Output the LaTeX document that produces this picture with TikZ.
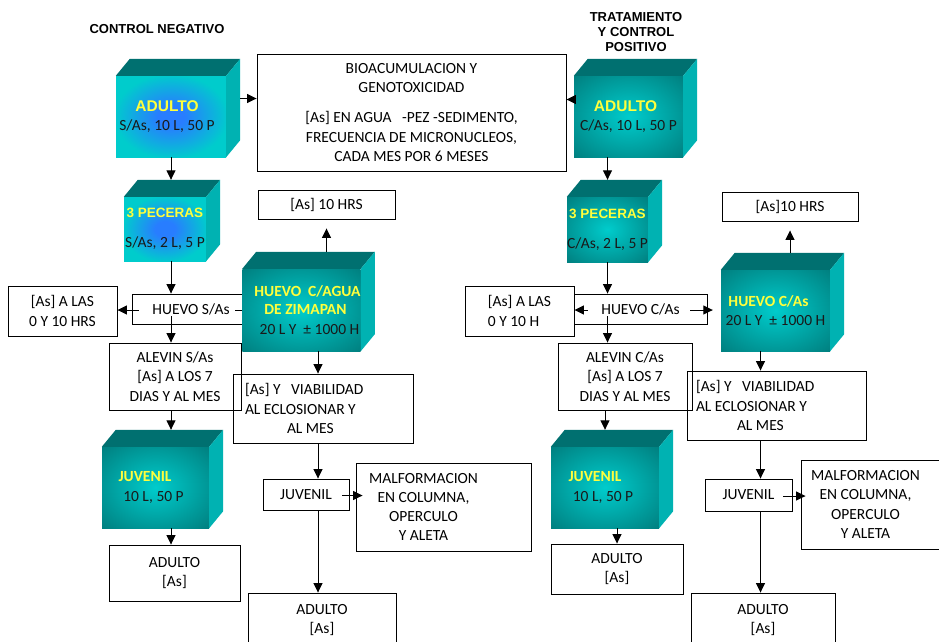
\documentclass[tikz,border=0pt]{standalone}
\usepackage{fontspec}
\setmainfont{Carlito}
\newfontfamily\arialfont{Liberation Sans}
\usepackage{tikz}
\usetikzlibrary{arrows.meta}
\definecolor{aguacian}{RGB}{0,204,204}
\definecolor{aguaosc}{RGB}{0,96,96}
\definecolor{tapa}{RGB}{0,112,112}
\definecolor{lado}{RGB}{0,178,178}
\definecolor{azul}{RGB}{40,125,255}
\definecolor{amarillo}{RGB}{255,255,60}
\definecolor{tinta}{RGB}{25,25,25}
\pgfdeclareradialshading{brillo}{\pgfpoint{0bp}{0bp}}{color(0bp)=(aguacian); color(50bp)=(aguaosc)}
\pgfdeclareradialshading{brilloazul}{\pgfpoint{0bp}{0bp}}{color(0bp)=(azul); color(6bp)=(azul); color(26bp)=(aguacian); color(50bp)=(aguacian)}
\newcommand{\letra}{\fontsize{15.5}{19.3}\selectfont}
\newcommand{\arsen}{[As]}
\newcommand{\linea}[1]{\makebox[111pt]{#1}}
\newcommand{\amar}[1]{{\color{amarillo}\bfseries #1}}
\newcommand{\fondox}{14}
\newcommand{\fondoy}{-17}
% caja 3D: nombre, posicion, ancho, alto, sombreado, texto
\newcommand{\cubo}[6]{%
  \node[cara, shading=#5, minimum width=#3pt, minimum height=#4pt] (#1) at #2 {#6};
  \fill[tapa] (#1.north west) -- ++(\fondox,\fondoy) -- ([shift={(\fondox,\fondoy)}]#1.north east) -- (#1.north east) -- cycle;
  \fill[lado] (#1.north east) -- ([shift={(\fondox,\fondoy)}]#1.north east) -- ([shift={(\fondox,\fondoy)}]#1.south east) -- (#1.south east) -- cycle;
  \coordinate (#1-t) at ([shift={(0,\fondoy)}]#1.north);
}
\tikzset{
  caja/.style={draw=black, line width=0.9pt, align=center, inner sep=0pt},
  cara/.style={shade, inner sep=0pt, align=center, text=tinta},
  flecha/.style={line width=0.9pt, -{Triangle[length=9.5pt,width=9pt]}},
  titulo/.style={font=\arialfont\bfseries\fontsize{13}{15}\selectfont, align=center}
}

\begin{document}
\begin{tikzpicture}[x=1pt, y=-1pt, font=\letra]
\useasboundingbox (0,0) rectangle (939,641);

\node[titulo] (hneg) at (157,29) {CONTROL NEGATIVO};
\node[titulo] (hpos) at (636,32) {TRATAMIENTO\\Y CONTROL\\POSITIVO};

% cajas de texto
\node[caja, minimum width=309pt, minimum height=117pt] (bio) at (411.5,112.5)
  {BIOACUMULACION Y\\GENOTOXICIDAD\\[11pt]\arsen{} EN AGUA \ \ -PEZ -SEDIMENTO,\\FRECUENCIA DE MICRONUCLEOS,\\CADA MES POR 6 MESES};
\node[caja, minimum width=137pt, minimum height=29pt] (hrsS) at (326.5,204.5) {\arsen{} 10 HRS};
\node[caja, minimum width=136pt, minimum height=29pt] (hrsC) at (790,206.5) {\arsen10 HRS};
\node[caja, minimum width=109pt, minimum height=50pt] (lasS) at (62.5,311) {\arsen{} A LAS\\0 Y 10 HRS};
\node[caja, minimum width=109pt, minimum height=50pt, align=left] (lasC) at (519.5,311) {\arsen{} A LAS\\0 Y 10 H};
\node[caja, minimum width=118pt, minimum height=30pt] (eggS) at (191,309) {HUEVO S/As};
\node[caja, minimum width=133pt, minimum height=30pt] (eggC) at (640.5,309) {HUEVO C/As};
\node[caja, minimum width=132pt, minimum height=67pt] (alvS) at (175,376.5) {ALEVIN S/As\\\arsen{} A LOS 7\\DIAS Y AL MES};
\node[caja, minimum width=134pt, minimum height=67pt] (alvC) at (625,376.5) {ALEVIN C/As\\\arsen{} A LOS 7\\DIAS Y AL MES};
\node[caja, minimum width=180pt, minimum height=69pt, text width=156pt, align=flush left] (viaS) at (323,408.5)
  {\arsen{} Y \ \ VIABILIDAD\\AL ECLOSIONAR Y\\\hspace*{42pt}AL MES};
\node[caja, minimum width=179pt, minimum height=69pt, text width=161pt, align=flush left] (viaC) at (776.5,405.5)
  {\arsen{} Y \ \ VIABILIDAD\\AL ECLOSIONAR Y\\\hspace*{41pt}AL MES};
\node[caja, minimum width=86pt, minimum height=31pt] (jvS) at (306,494.5) {JUVENIL};
\node[caja, minimum width=87pt, minimum height=32pt] (jvC) at (748.5,495) {JUVENIL};
\node[caja, minimum width=175pt, minimum height=88pt, text width=151pt, align=flush left] (malS) at (443.5,507)
  {\linea{MALFORMACION}\\\linea{EN COLUMNA,}\\\linea{OPERCULO}\\\linea{Y ALETA}};
\node[caja, minimum width=175pt, minimum height=89pt, text width=157pt, align=flush left] (malC) at (888.5,504.5)
  {\linea{MALFORMACION}\\\linea{EN COLUMNA,}\\\linea{OPERCULO}\\\linea{Y ALETA}};
\node[caja, minimum width=131pt, minimum height=56pt] (adbS) at (174.5,573) {ADULTO\\\arsen};
\node[caja, minimum width=132pt, minimum height=50pt] (adbC) at (617,569) {ADULTO\\\arsen};
\node[caja, minimum width=148pt, minimum height=54pt] (adlS) at (322,620) {ADULTO\\\arsen};
\node[caja, minimum width=144pt, minimum height=54pt] (adlC) at (763,620) {ADULTO\\\arsen};

% cajas 3D
\cubo{adS}{(171,116.5)}{110}{81}{brilloazul}{{\arialfont\amar{ADULTO}}\hspace*{8pt}\\S/As, 10 L, 50 P\hspace*{8pt}}
\cubo{adC}{(628.5,116.5)}{109}{81}{brillo}{{\arialfont\amar{ADULTO}}\hspace*{6pt}\\C/As, 10 L, 50 P}
\cubo{pecS}{(165,229)}{82}{64}{brilloazul}{\arialfont\fontsize{13.5}{16}\selectfont\amar{3 PECERAS}\\[11pt]S/As, 2 L, 5 P}
\cubo{pecC}{(607.5,229.5)}{81}{65}{brillo}{\arialfont\fontsize{13.5}{16}\selectfont\amar{3 PECERAS}\\[11pt]C/As, 2 L, 5 P}
\cubo{huS}{(301.5,310)}{113}{82}{brillo}{\hspace*{12pt}\amar{HUEVO \ C/AGUA}\\[-1pt]\hspace*{8pt}\amar{DE ZIMAPAN}\\\hspace*{16pt}20 L Y \ ± 1000 H}
\cubo{huC}{(775.5,310.5)}{109}{81}{brillo}{\amar{HUEVO C/As}\hspace*{14pt}\\20 L Y \ ± 1000 H}
\cubo{juS}{(155.5,487.5)}{107}{81}{brillo}{\amar{JUVENIL}\hspace*{21pt}\\10 L, 50 P\hspace*{4pt}}
\cubo{juC}{(605,487.5)}{108}{81}{brillo}{\amar{JUVENIL}\hspace*{20pt}\\10 L, 50 P\hspace*{4pt}}

% control negativo
\coordinate (s1) at ([shift={(\fondox,-18)}]adS.east);
\draw[flecha] (s1) -- (s1 -| bio.west);
\draw[flecha] (adS.south) -- (adS.south |- pecS-t);
\draw[flecha] (pecS.south -| adS.south) -- (eggS.north -| adS.south);
\coordinate (e1) at ([shift={(0,7)}]eggS.center);
\draw[flecha] (e1 -| adS.south) -- (alvS.north -| adS.south);
\coordinate (e2) at ([shift={(7,1)}]eggS.west);
\draw[flecha] (e2) -- (e2 -| lasS.east);
\coordinate (e3) at ([shift={(-15,1)}]eggS.east);
\draw[line width=0.9pt] (e3) -- (e3 -| huS.west);
\draw[flecha, shorten >=9pt] (hrsS.south |- huS-t) -- (hrsS.south);
\coordinate (v1) at ([shift={(-5,0)}]viaS.south);
\draw[flecha] (huS.south -| v1) -- (viaS.north -| v1);
\draw[flecha] (v1) -- (v1 |- jvS.north);
\draw[flecha] (v1 |- jvS.south) -- (v1 |- adlS.north);
\coordinate (j1) at ([shift={(-7,1)}]jvS.east);
\draw[flecha] (j1) -- ([shift={(7,0)}]malS.west |- j1);
\draw[flecha] (alvS.south -| adS.south) -- (adS.south |- juS-t);
\draw[flecha] (juS.south -| adS.south) -- (adbS.north -| adS.south);

% tratamiento y control positivo
\coordinate (s2) at ([shift={(0,-17)}]adC.west);
\draw[flecha] (s2) -- (s2 -| bio.east);
\draw[flecha] (adC.south -| pecC.north) -- (pecC-t);
\draw[flecha] (pecC.south) -- (pecC.south |- eggC.north);
\coordinate (e4) at ([shift={(0,7)}]eggC.center);
\draw[flecha] (e4 -| pecC.south) -- (alvC.north -| pecC.south);
\coordinate (e5) at ([shift={(14,1)}]eggC.west);
\draw[flecha] (e5) -- (e5 -| lasC.east);
\coordinate (e6) at ([shift={(-17,1)}]eggC.east);
\draw[flecha, shorten >=8pt] (e6) -- (e6 -| huC.west);
\draw[flecha, shorten >=9pt] (hrsC.south |- huC-t) -- (hrsC.south);
\coordinate (v2) at ([shift={(-16,0)}]viaC.south);
\draw[flecha] (huC.south -| v2) -- (viaC.north -| v2);
\draw[flecha] (v2) -- (v2 |- jvC.north);
\draw[flecha] (v2 |- jvC.south) -- (v2 |- adlC.north);
\coordinate (j2) at ([shift={(-9,1)}]jvC.east);
\draw[flecha] (j2) -- ([shift={(5,0)}]malC.west |- j2);
\draw[flecha] (alvC.south -| juC-t) -- (juC-t);
\draw[flecha] (juC.south -| adbC.north) -- (adbC.north);
\end{tikzpicture}
\end{document}
